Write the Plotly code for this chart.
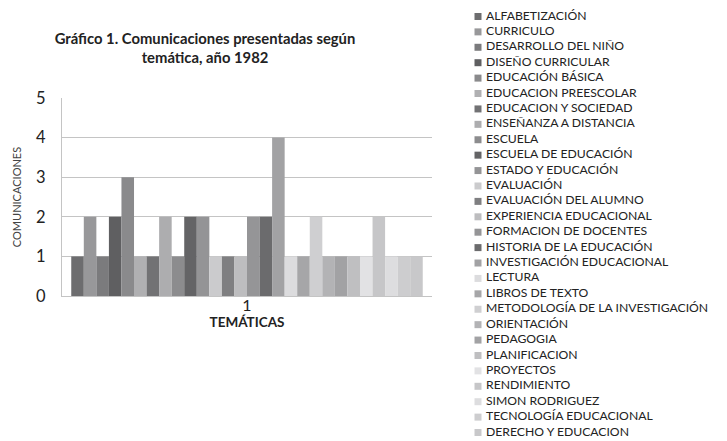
import plotly.graph_objects as go

W, H = 727, 441
OFF = 8  # margen del body de la página
FW, FH = W - OFF, H - OFF

tematicas = [
    "ALFABETIZACIÓN", "CURRICULO", "DESARROLLO DEL NIÑO", "DISEÑO CURRICULAR",
    "EDUCACIÓN BÁSICA", "EDUCACION PREESCOLAR", "EDUCACION Y SOCIEDAD",
    "ENSEÑANZA A DISTANCIA", "ESCUELA", "ESCUELA DE EDUCACIÓN", "ESTADO Y EDUCACIÓN",
    "EVALUACIÓN", "EVALUACIÓN DEL ALUMNO", "EXPERIENCIA EDUCACIONAL",
    "FORMACION DE DOCENTES", "HISTORIA DE LA EDUCACIÓN", "INVESTIGACIÓN EDUCACIONAL",
    "LECTURA", "LIBROS DE TEXTO", "METODOLOGÍA DE LA INVESTIGACIÓN", "ORIENTACIÓN",
    "PEDAGOGIA", "PLANIFICACION", "PROYECTOS", "RENDIMIENTO", "SIMON RODRIGUEZ",
    "TECNOLOGÍA EDUCACIONAL", "DERECHO Y EDUCACION",
]
comunicaciones = [1, 2, 1, 2, 3, 1, 1, 2, 1, 2, 2, 1, 1, 1, 2, 2, 4, 1, 1, 2, 1, 1, 1, 1, 2, 1, 1, 1]
grises = [
    "#6d6d6f", "#98989a", "#7b7b7d", "#5f5f61", "#8a8a8c", "#b0b0b2", "#727274",
    "#adadaf", "#8c8c8e", "#646466", "#949496", "#cbcbcd", "#7f7f81", "#bdbdbf",
    "#959597", "#6b6b6d", "#a2a2a4", "#dcdcde", "#a6a6a8", "#cfcfd1", "#b3b3b5",
    "#a2a2a4", "#bfbfc1", "#e2e2e4", "#c6c6c8", "#dddddf", "#cdcdcf", "#c8c8ca",
]
categoria = ["1"]

FONT = "Lato, 'Open Sans', sans-serif"


def px_x(x):
    return (x - OFF) / FW


def px_y(y):
    return 1 - (y - OFF) / FH


fig = go.Figure()
for nombre, valor, color in zip(tematicas, comunicaciones, grises):
    fig.add_trace(go.Bar(
        name=nombre, x=categoria, y=[valor],
        marker=dict(color=color, line=dict(width=0)),
        showlegend=False,
    ))

# leyenda dibujada a mano: cuadrados + textos
idx = list(range(len(tematicas)))
fig.add_trace(go.Scatter(
    x=[0] * len(tematicas), y=idx, mode="markers",
    marker=dict(symbol="square", size=7, color=grises),
    xaxis="x2", yaxis="y2", showlegend=False, hoverinfo="skip", cliponaxis=False,
))
fig.add_trace(go.Scatter(
    x=[8] * len(tematicas), y=idx, mode="text",
    text=tematicas, textposition="middle right",
    textfont=dict(size=12.2, color="#222", family=FONT),
    xaxis="x2", yaxis="y2", showlegend=False, hoverinfo="skip", cliponaxis=False,
))

fig.update_layout(
    width=FW, height=FH,
    margin=dict(l=0, r=0, t=0, b=0),
    paper_bgcolor="white", plot_bgcolor="white",
    font=dict(family=FONT, color="#222"),
    barmode="group", bargap=0.05, bargroupgap=0,
    title=dict(
        text="<b>Gráfico 1. Comunicaciones presentadas según<br>temática, año 1982</b>",
        x=px_x(205), xanchor="center", y=px_y(44), yanchor="middle",
        font=dict(size=14.8, color="#222"),
    ),
    xaxis=dict(
        domain=[px_x(62), px_x(432)], showgrid=False, showline=True,
        linecolor="#c4c4c4", ticks="", tickfont=dict(size=16),
        ticklabelstandoff=-5, automargin=False,
        title=dict(text="<b>TEMÁTICAS</b>", font=dict(size=13.5), standoff=0),
    ),
    yaxis=dict(
        domain=[px_y(296), px_y(98)], range=[0, 5], dtick=1,
        showgrid=True, gridcolor="#c4c4c4", showline=True, linecolor="#c4c4c4",
        zeroline=False, tickfont=dict(size=16.5), ticklabelstandoff=12,
        automargin=False,
        title=dict(text="COMUNICACIONES", font=dict(size=11, color="#444"), standoff=12),
    ),
    xaxis2=dict(domain=[px_x(470), 1], range=[-8, FW - px_x(470) * FW - 8],
                visible=False, fixedrange=True),
    yaxis2=dict(domain=[0, 1], range=[27.55, -0.55], visible=False, fixedrange=True),
)

fig.write_html("out.html")
